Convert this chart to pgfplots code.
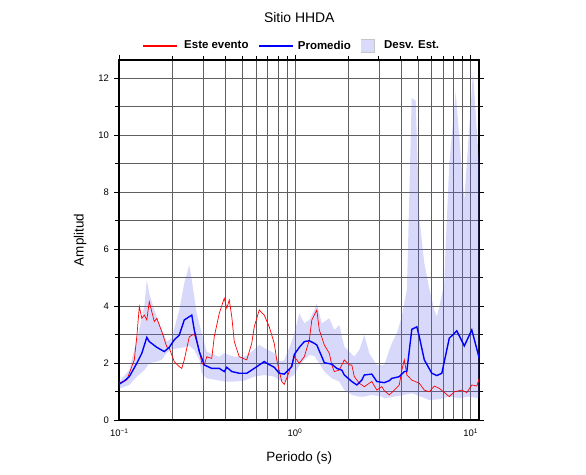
\documentclass[border=0pt]{standalone}
\usepackage{fontspec}
\setmainfont{Liberation Sans}
\usepackage{pgfplots}
\pgfplotsset{compat=1.18}
\definecolor{bandc}{RGB}{100,100,240}
\definecolor{bandleg}{RGB}{218,218,251}
\definecolor{gridc}{RGB}{95,95,95}
\definecolor{legred}{RGB}{255,0,0}
\definecolor{legblue}{RGB}{0,0,255}
\pgfplotsset{
  redleg/.style={legend image code/.code={\fill[legred] (0bp,-0.45bp) rectangle (33bp,0.45bp);}},
  blueleg/.style={legend image code/.code={\fill[legblue] (0bp,-0.75bp) rectangle (33bp,0.75bp);}},
  bandlegs/.style={legend image code/.code={\fill[gray!45] (0bp,-6.5bp) rectangle (13bp,6.5bp); \fill[bandleg] (0.6bp,-5.9bp) rectangle (12.4bp,5.9bp);}},
}
\begin{document}
\begin{tikzpicture}
\begin{axis}[
  at={(0,0)}, anchor=south west,
  scale only axis, width=360bp, height=360bp,
  xmode=log, xmin=0.1, xmax=11.187, ymin=0, ymax=12.63,
  xtick={0.1,1,10},
  xticklabels={10\textsuperscript{−1},10\textsuperscript{0},10\textsuperscript{1}},
  minor xtick={0.2,0.3,0.4,0.5,0.6,0.7,0.8,0.9,2,3,4,5,6,7,8,9},
  ytick={0,2,4,6,8,10,12},
  minor ytick={1,3,5,7,9,11},
  grid=both,
  grid style={line width=0.6bp, draw=gridc},
  axis line style={line width=1.6bp},
  tick style={line width=0.8bp, black},
  tick align=outside,
  major tick length=5bp, minor tick length=4bp,
  xtick pos=right, xticklabel pos=left,
  ytick pos=both, yticklabel pos=left,
  /pgf/number format/assume math mode=true,
  tick label style={font=\fontsize{9.5}{11}\selectfont},
  yticklabel style={xshift=-2bp},
  title={Sitio HHDA},
  title style={at={(axis description cs:0.5,1.102)}, anchor=center, font=\fontsize{14}{16}\selectfont},
  xlabel={Periodo (s)},
  xlabel style={at={(axis description cs:0.5,-0.105)}, anchor=center, font=\fontsize{13.5}{15}\selectfont},
  ylabel={Amplitud},
  ylabel style={at={(axis description cs:-0.109,0.5)}, anchor=center, font=\fontsize{13.5}{15}\selectfont},
  legend columns=3,
  legend style={at={(axis description cs:0.4797,1.04)}, anchor=center, draw=none, fill=none,
    font=\bfseries\fontsize{11.5}{13}\selectfont,
    /tikz/column 1/.style={column sep=6bp},
    /tikz/column 2/.style={column sep=8bp},
    /tikz/column 3/.style={column sep=4bp},
    /tikz/column 4/.style={column sep=8bp},
    /tikz/column 5/.style={column sep=8bp}},
]
% Desv. Est. band: upper envelope left to right, then lower envelope right to left
\addplot[fill=bandc, fill opacity=0.25, draw=none, forget plot] coordinates {
(0.1000,1.35) (0.1140,1.75) (0.1258,2.81) (0.1388,3.98) (0.1434,4.91) (0.1481,4.44)
(0.1582,3.86) (0.1689,3.39) (0.1863,2.75) (0.1989,2.87) (0.2195,3.86) (0.2343,4.80)
(0.2502,5.44) (0.2585,4.91) (0.2760,3.74) (0.2947,3.04) (0.3146,2.40) (0.3471,2.28)
(0.3706,2.22) (0.3957,2.34) (0.4511,2.22) (0.5142,2.22) (0.5673,2.40) (0.6259,2.63)
(0.6905,2.48) (0.7618,2.34) (0.8134,2.05) (0.8684,2.10) (0.9581,2.75) (0.9909,3.04)
(1.0580,3.74) (1.1296,3.39) (1.2061,3.51) (1.2877,3.86) (1.3306,4.09) (1.4207,3.39)
(1.5674,3.57) (1.6735,3.16) (1.7868,3.33) (1.9078,2.57) (2.1749,2.22) (2.3222,2.46)
(2.4794,2.98) (2.6472,2.34) (2.9207,1.93) (3.2221,1.93) (3.4403,2.46) (3.5550,2.69)
(3.7956,3.04) (4.0526,3.63) (4.3270,4.56) (4.378,5.61) (4.614,11.29) (4.862,11.20)
(5.0969,7.10) (5.4420,5.50) (5.8104,4.60) (6.2038,3.86) (6.4106,3.63) (6.6238,3.98)
(7.0723,4.80) (7.166,5.80) (7.5511,9.00) (8.212,11.50) (9.1910,7.70) (10.30,12.20)
(10.956,9.70) (11.187,9.00)
(11.187,0.76) (9.8133,0.82) (8.6082,0.76) (7.5511,0.82) (6.6238,0.73) (5.8104,0.70)
(5.0969,0.84) (4.6200,0.94) (4.1875,0.88) (3.6732,0.82) (3.2221,0.76) (3.1184,0.82)
(2.7354,0.88) (2.4794,0.82) (2.3222,0.82) (2.1049,0.88) (1.9078,1.05) (1.7868,1.35)
(1.6197,1.46) (1.4680,1.70) (1.3749,1.99) (1.2877,2.25) (1.2061,2.28) (1.1296,2.11)
(1.0580,1.90) (0.9909,1.60) (0.8684,1.35) (0.8134,1.40) (0.7618,1.52) (0.6682,1.58)
(0.5862,1.52) (0.5142,1.38) (0.4511,1.35) (0.3957,1.35) (0.3587,1.40) (0.3146,1.46)
(0.2947,1.64) (0.2852,2.11) (0.2671,2.46) (0.2502,2.60) (0.2343,2.55) (0.2124,2.51)
(0.1989,2.48) (0.1863,2.36) (0.1745,2.11) (0.1635,2.05) (0.1481,1.99) (0.1388,1.75)
(0.1258,1.52) (0.1140,1.23) (0.1000,1.10)
} -- cycle;
\addplot[red, line width=0.7bp, forget plot] coordinates {
(0.1000,1.30) (0.1103,1.40) (0.1217,2.11) (0.1258,2.92) (0.1300,3.98) (0.1343,3.57)
(0.1388,3.68) (0.1434,3.51) (0.1481,4.15) (0.1582,3.45) (0.1635,3.57) (0.1745,3.10)
(0.1863,2.57) (0.1925,2.52) (0.2055,2.05) (0.2195,1.87) (0.2268,1.81) (0.2343,2.11)
(0.2502,2.92) (0.2671,3.02) (0.2852,2.46) (0.2947,1.99) (0.3045,1.93) (0.3146,2.22)
(0.3359,2.16) (0.3471,2.92) (0.3706,3.74) (0.3957,4.27) (0.4089,3.92) (0.4225,4.21)
(0.4366,3.63) (0.4511,2.75) (0.4816,2.22) (0.5313,2.11) (0.5673,2.69) (0.5862,3.27)
(0.6259,3.86) (0.6682,3.68) (0.7135,3.27) (0.7618,2.69) (0.7872,2.11) (0.8405,1.35)
(0.8684,1.25) (0.9272,1.70) (0.9909,2.22) (1.0580,1.99) (1.0932,2.11) (1.1296,2.22)
(1.2061,2.81) (1.2463,3.51) (1.3306,3.86) (1.3749,3.16) (1.4680,2.63) (1.5674,2.34)
(1.6197,1.93) (1.6735,1.70) (1.7868,1.75) (1.9078,2.11) (2.0370,1.93) (2.1049,1.93)
(2.1749,1.52) (2.3222,1.29) (2.4794,1.17) (2.7354,1.35) (2.9207,1.05) (3.1184,1.17)
(3.2221,1.03) (3.4403,0.88) (3.6732,1.05) (3.9219,1.23) (4.0526,1.75) (4.1875,2.11)
(4.3270,1.58) (4.6200,1.40) (5.0969,1.29) (5.4420,1.05) (5.8104,0.99) (6.2038,1.19)
(6.6238,1.11) (7.5511,0.82) (8.0623,0.99) (8.8952,1.05) (9.4974,0.96) (10.140,1.23)
(10.827,1.19) (11.187,1.46)
};
\addplot[blue, line width=1.4bp, forget plot] coordinates {
(0.1000,1.26) (0.1068,1.37) (0.1140,1.52) (0.1258,1.99) (0.1343,2.34) (0.1434,2.90)
(0.1481,2.75) (0.1635,2.55) (0.1803,2.40) (0.1925,2.55) (0.2055,2.81) (0.2195,2.98)
(0.2343,3.51) (0.2585,3.68) (0.2671,3.16) (0.2852,2.40) (0.3045,1.93) (0.3359,1.81)
(0.3706,1.81) (0.3957,1.70) (0.4089,1.85) (0.4366,1.70) (0.4816,1.64) (0.5313,1.64)
(0.5862,1.81) (0.6682,2.05) (0.6905,1.99) (0.7618,1.85) (0.8134,1.64) (0.8684,1.61)
(0.9581,1.87) (0.9909,2.30) (1.0580,2.55) (1.1296,2.75) (1.2061,2.78) (1.2877,2.69)
(1.3306,2.63) (1.4207,2.22) (1.4680,2.01) (1.6197,1.96) (1.7293,1.81) (1.8464,1.75)
(1.9078,1.58) (2.1049,1.35) (2.2474,1.23) (2.3996,1.40) (2.4794,1.58) (2.7354,1.61)
(2.9207,1.35) (3.2221,1.31) (3.4403,1.38) (3.5550,1.46) (3.9219,1.52) (4.1875,1.70)
(4.3270,1.70) (4.6200,3.18) (4.9328,3.27) (5.0969,2.92) (5.4420,2.11) (6.0041,1.64)
(6.4106,1.56) (6.8446,1.64) (7.5511,2.87) (8.3311,3.13) (9.1910,2.60) (10.140,3.16)
(11.187,2.16)
};
\addlegendimage{redleg}
\addlegendentry{Este evento}
\addlegendimage{blueleg}
\addlegendentry{Promedio}
\addlegendimage{bandlegs}
\addlegendentry{Desv. Est.}
\end{axis}
\pgfresetboundingbox
\path[use as bounding box] (-119.3bp,-55bp) rectangle (466.7bp,420bp);
\end{tikzpicture}
\end{document}
